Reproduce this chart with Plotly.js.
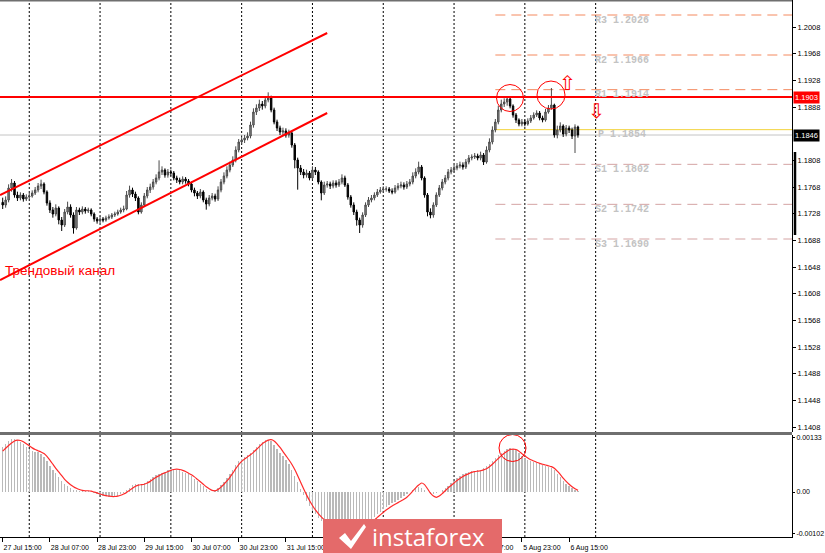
<!DOCTYPE html>
<html><head><meta charset="utf-8">
<script src="https://cdn.plot.ly/plotly-3.0.1.min.js"></script>
<style>html,body{margin:0;padding:0;background:#fff}#chart{width:825px;height:553px}</style>
</head><body><div id="chart"></div>
<script>
// ---- DATA (EURUSD H1, 27 Jul 15:00 .. 6 Aug 18:00) ----
const opens = [1.17450,1.17410,1.17485,1.17665,1.17740,1.17560,1.17515,1.17560,1.17500,1.17530,
1.17545,1.17590,1.17635,1.17695,1.17725,1.17605,1.17440,1.17335,1.17275,1.17365,
1.17185,1.17110,1.17305,1.17380,1.17260,1.17065,1.17335,1.17305,1.17350,1.17320,
1.17335,1.17275,1.17200,1.17170,1.17200,1.17185,1.17215,1.17230,1.17260,1.17275,
1.17305,1.17335,1.17350,1.17560,1.17635,1.17575,1.17515,1.17305,1.17410,1.17545,
1.17635,1.17680,1.17755,1.17815,1.17905,1.17935,1.17860,1.17905,1.17890,1.17815,
1.17785,1.17755,1.17800,1.17770,1.17725,1.17635,1.17590,1.17545,1.17605,1.17485,
1.17425,1.17515,1.17545,1.17500,1.17635,1.17755,1.17845,1.17935,1.18010,1.18085,
1.18235,1.18355,1.18385,1.18415,1.18445,1.18610,1.18805,1.18865,1.18925,1.18895,
1.18985,1.19015,1.18835,1.18655,1.18565,1.18505,1.18520,1.18460,1.18490,1.18310,
1.18085,1.17965,1.17905,1.17860,1.17890,1.17815,1.17935,1.17905,1.17755,1.17590,
1.17710,1.17725,1.17695,1.17740,1.17710,1.17755,1.17815,1.17710,1.17530,1.17410,
1.17305,1.17185,1.17110,1.17260,1.17410,1.17485,1.17515,1.17560,1.17605,1.17635,
1.17650,1.17650,1.17620,1.17605,1.17665,1.17695,1.17710,1.17680,1.17725,1.17755,
1.17845,1.17905,1.17980,1.17815,1.17560,1.17305,1.17260,1.17410,1.17560,1.17665,
1.17755,1.17815,1.17905,1.17935,1.17965,1.17995,1.18010,1.17980,1.18055,1.18115,
1.18130,1.18145,1.18115,1.18160,1.18055,1.18235,1.18355,1.18535,1.18655,1.18835,
1.18925,1.18955,1.19000,1.18895,1.18760,1.18685,1.18625,1.18655,1.18625,1.18670,
1.18715,1.18760,1.18790,1.18715,1.18685,1.18805,1.18865,1.18910,1.18460,1.18535,
1.18595,1.18475,1.18565,1.18535,1.18445,1.18580];
const highs = [1.17520,1.17540,1.17720,1.17800,1.17770,1.17610,1.17600,1.17590,1.17570,1.17590,
1.17630,1.17680,1.17740,1.17790,1.17750,1.17630,1.17480,1.17380,1.17420,1.17390,
1.17230,1.17350,1.17460,1.17420,1.17300,1.17380,1.17370,1.17390,1.17380,1.17370,
1.17360,1.17300,1.17230,1.17240,1.17230,1.17250,1.17270,1.17290,1.17310,1.17340,
1.17370,1.17400,1.17620,1.17700,1.17670,1.17610,1.17540,1.17450,1.17590,1.17680,
1.17730,1.17800,1.17870,1.18080,1.17990,1.17960,1.17950,1.17940,1.17920,1.17850,
1.17820,1.17840,1.17830,1.17800,1.17760,1.17670,1.17620,1.17650,1.17630,1.17520,
1.17560,1.17590,1.17580,1.17690,1.17800,1.17900,1.17990,1.18060,1.18140,1.18290,
1.18400,1.18430,1.18460,1.18500,1.18660,1.18860,1.18920,1.18990,1.18970,1.19040,
1.19100,1.19050,1.18870,1.18690,1.18600,1.18570,1.18560,1.18540,1.18520,1.18340,
1.18120,1.18010,1.17950,1.17940,1.17920,1.17990,1.17980,1.17930,1.17780,1.17760,
1.17770,1.17760,1.17780,1.17780,1.17800,1.17870,1.17850,1.17740,1.17560,1.17450,
1.17340,1.17220,1.17300,1.17450,1.17530,1.17560,1.17600,1.17650,1.17680,1.17690,
1.17690,1.17680,1.17660,1.17710,1.17740,1.17760,1.17750,1.17770,1.17800,1.17900,
1.17960,1.18060,1.18010,1.17840,1.17590,1.17360,1.17450,1.17600,1.17710,1.17800,
1.17860,1.17950,1.17980,1.18010,1.18040,1.18060,1.18050,1.18100,1.18160,1.18170,
1.18190,1.18180,1.18210,1.18190,1.18290,1.18410,1.18590,1.18700,1.18900,1.18990,
1.19010,1.19040,1.19030,1.18920,1.18790,1.18710,1.18700,1.18690,1.18710,1.18760,
1.18800,1.18830,1.18820,1.18750,1.18850,1.18910,1.19165,1.18930,1.18600,1.18650,
1.18620,1.18610,1.18600,1.18570,1.18620,1.18600];
const lows = [1.17350,1.17370,1.17450,1.17610,1.17520,1.17470,1.17480,1.17460,1.17470,1.17500,
1.17520,1.17560,1.17600,1.17650,1.17570,1.17400,1.17290,1.17220,1.17240,1.17120,
1.17020,1.17080,1.17270,1.17220,1.16980,1.17040,1.17260,1.17270,1.17280,1.17290,
1.17240,1.17160,1.17130,1.17140,1.17150,1.17160,1.17190,1.17200,1.17230,1.17250,
1.17280,1.17300,1.17330,1.17520,1.17530,1.17470,1.17270,1.17280,1.17380,1.17510,
1.17590,1.17640,1.17720,1.17780,1.17860,1.17820,1.17820,1.17850,1.17780,1.17740,
1.17720,1.17720,1.17730,1.17690,1.17600,1.17540,1.17500,1.17510,1.17450,1.17340,
1.17390,1.17480,1.17460,1.17470,1.17600,1.17720,1.17810,1.17900,1.17980,1.18050,
1.18200,1.18320,1.18340,1.18380,1.18410,1.18570,1.18760,1.18820,1.18840,1.18860,
1.18950,1.18800,1.18620,1.18520,1.18460,1.18450,1.18420,1.18420,1.18270,1.17960,
1.17640,1.17860,1.17810,1.17820,1.17780,1.17790,1.17860,1.17720,1.17480,1.17560,
1.17670,1.17650,1.17660,1.17670,1.17680,1.17720,1.17680,1.17490,1.17370,1.17260,
1.17100,1.16990,1.17070,1.17230,1.17380,1.17450,1.17480,1.17530,1.17580,1.17600,
1.17610,1.17590,1.17570,1.17580,1.17630,1.17660,1.17640,1.17650,1.17690,1.17720,
1.17810,1.17870,1.17780,1.17520,1.17240,1.17210,1.17220,1.17380,1.17530,1.17630,
1.17720,1.17780,1.17870,1.17900,1.17930,1.17960,1.17940,1.17950,1.18020,1.18080,
1.18100,1.18080,1.18080,1.18010,1.18030,1.18200,1.18320,1.18500,1.18620,1.18800,
1.18880,1.18900,1.18860,1.18720,1.18640,1.18590,1.18590,1.18590,1.18600,1.18640,
1.18690,1.18730,1.18680,1.18650,1.18660,1.18780,1.18840,1.18420,1.18410,1.18500,
1.18430,1.18440,1.18490,1.18400,1.18190,1.18420];
const closes = [1.17410,1.17485,1.17665,1.17740,1.17560,1.17515,1.17560,1.17500,1.17530,1.17545,
1.17590,1.17635,1.17695,1.17725,1.17605,1.17440,1.17335,1.17275,1.17365,1.17185,
1.17110,1.17305,1.17380,1.17260,1.17065,1.17335,1.17305,1.17350,1.17320,1.17335,
1.17275,1.17200,1.17170,1.17200,1.17185,1.17215,1.17230,1.17260,1.17275,1.17305,
1.17335,1.17350,1.17560,1.17635,1.17575,1.17515,1.17305,1.17410,1.17545,1.17635,
1.17680,1.17755,1.17815,1.17905,1.17935,1.17860,1.17905,1.17890,1.17815,1.17785,
1.17755,1.17800,1.17770,1.17725,1.17635,1.17590,1.17545,1.17605,1.17485,1.17425,
1.17515,1.17545,1.17500,1.17635,1.17755,1.17845,1.17935,1.18010,1.18085,1.18235,
1.18355,1.18385,1.18415,1.18445,1.18610,1.18805,1.18865,1.18925,1.18895,1.18985,
1.19015,1.18835,1.18655,1.18565,1.18505,1.18520,1.18460,1.18490,1.18310,1.18085,
1.17965,1.17905,1.17860,1.17890,1.17815,1.17935,1.17905,1.17755,1.17590,1.17710,
1.17725,1.17695,1.17740,1.17710,1.17755,1.17815,1.17710,1.17530,1.17410,1.17305,
1.17185,1.17110,1.17260,1.17410,1.17485,1.17515,1.17560,1.17605,1.17635,1.17650,
1.17650,1.17620,1.17605,1.17665,1.17695,1.17710,1.17680,1.17725,1.17755,1.17845,
1.17905,1.17980,1.17815,1.17560,1.17305,1.17260,1.17410,1.17560,1.17665,1.17755,
1.17815,1.17905,1.17935,1.17965,1.17995,1.18010,1.17980,1.18055,1.18115,1.18130,
1.18145,1.18115,1.18160,1.18055,1.18235,1.18355,1.18535,1.18655,1.18835,1.18925,
1.18955,1.19000,1.18895,1.18760,1.18685,1.18625,1.18655,1.18625,1.18670,1.18715,
1.18760,1.18790,1.18715,1.18685,1.18805,1.18865,1.18910,1.18460,1.18535,1.18595,
1.18475,1.18565,1.18535,1.18445,1.18580,1.18460];
const macdHist = [0.00110,0.00117,0.00124,0.00129,0.00130,0.00127,0.00122,0.00117,0.00111,0.00105,
0.00101,0.00099,0.00097,0.00094,0.00085,0.00075,0.00064,0.00055,0.00046,0.00036,
0.00027,0.00020,0.00014,0.00009,0.00006,0.00004,0.00003,0.00003,0.00003,0.00002,
0.00001,-0.00002,-0.00004,-0.00007,-0.00009,-0.00011,-0.00012,-0.00012,-0.00011,-0.00009,
-0.00006,-0.00002,0.00004,0.00010,0.00016,0.00020,0.00019,0.00017,0.00021,0.00026,
0.00032,0.00037,0.00041,0.00044,0.00047,0.00050,0.00053,0.00055,0.00056,0.00055,
0.00053,0.00050,0.00047,0.00043,0.00038,0.00032,0.00026,0.00020,0.00014,0.00008,
0.00003,-0.00001,0.00004,0.00010,0.00017,0.00025,0.00034,0.00044,0.00055,0.00066,
0.00075,0.00080,0.00085,0.00090,0.00096,0.00103,0.00110,0.00117,0.00123,0.00127,
0.00128,0.00124,0.00116,0.00106,0.00096,0.00087,0.00078,0.00068,0.00055,0.00040,
0.00025,0.00008,-0.00008,-0.00022,-0.00035,-0.00046,-0.00055,-0.00063,-0.00070,-0.00076,
-0.00080,-0.00083,-0.00085,-0.00086,-0.00086,-0.00085,-0.00085,-0.00087,-0.00090,-0.00092,
-0.00093,-0.00091,-0.00087,-0.00082,-0.00076,-0.00069,-0.00062,-0.00055,-0.00048,-0.00042,
-0.00037,-0.00032,-0.00028,-0.00024,-0.00020,-0.00015,-0.00010,-0.00005,0.00000,0.00006,
0.00010,0.00012,0.00010,0.00005,0.00000,-0.00004,-0.00005,-0.00003,0.00001,0.00004,
0.00009,0.00015,0.00022,0.00028,0.00034,0.00039,0.00043,0.00046,0.00049,0.00051,
0.00052,0.00053,0.00055,0.00058,0.00063,0.00069,0.00076,0.00083,0.00090,0.00096,
0.00101,0.00105,0.00107,0.00106,0.00102,0.00096,0.00089,0.00083,0.00079,0.00076,
0.00073,0.00070,0.00068,0.00066,0.00064,0.00062,0.00059,0.00053,0.00045,0.00036,
0.00027,0.00020,0.00014,0.00009,0.00005,0.00002];
const macdSignal = [0.00100,0.00107,0.00114,0.00120,0.00125,0.00127,0.00126,0.00123,0.00118,0.00113,
0.00108,0.00104,0.00101,0.00098,0.00094,0.00087,0.00078,0.00068,0.00058,0.00049,
0.00040,0.00031,0.00024,0.00018,0.00013,0.00009,0.00006,0.00004,0.00003,0.00003,
0.00002,0.00000,-0.00002,-0.00005,-0.00007,-0.00009,-0.00010,-0.00011,-0.00011,-0.00010,
-0.00008,-0.00005,-0.00001,0.00004,0.00009,0.00014,0.00017,0.00018,0.00019,0.00022,
0.00026,0.00031,0.00036,0.00040,0.00044,0.00047,0.00050,0.00053,0.00055,0.00056,
0.00055,0.00053,0.00050,0.00046,0.00042,0.00037,0.00031,0.00025,0.00019,0.00013,
0.00008,0.00004,0.00003,0.00006,0.00012,0.00019,0.00027,0.00036,0.00046,0.00057,
0.00067,0.00075,0.00081,0.00086,0.00091,0.00097,0.00104,0.00111,0.00118,0.00123,
0.00127,0.00128,0.00125,0.00118,0.00109,0.00099,0.00089,0.00079,0.00068,0.00055,
0.00040,0.00024,0.00008,-0.00007,-0.00021,-0.00033,-0.00044,-0.00053,-0.00061,-0.00068,
-0.00074,-0.00078,-0.00082,-0.00084,-0.00085,-0.00086,-0.00085,-0.00086,-0.00088,-0.00090,
-0.00092,-0.00092,-0.00090,-0.00086,-0.00081,-0.00075,-0.00069,-0.00062,-0.00056,-0.00050,
-0.00044,-0.00039,-0.00034,-0.00030,-0.00026,-0.00022,-0.00018,-0.00013,-0.00006,0.00002,
0.00010,0.00017,0.00022,0.00018,0.00008,-0.00003,-0.00010,-0.00013,-0.00010,-0.00004,
0.00003,0.00010,0.00016,0.00022,0.00028,0.00033,0.00038,0.00042,0.00045,0.00048,
0.00050,0.00051,0.00052,0.00054,0.00057,0.00062,0.00068,0.00075,0.00082,0.00089,
0.00095,0.00100,0.00104,0.00105,0.00104,0.00100,0.00094,0.00088,0.00083,0.00079,
0.00076,0.00073,0.00070,0.00068,0.00066,0.00064,0.00062,0.00058,0.00051,0.00043,
0.00034,0.00026,0.00019,0.00013,0.00008,0.00004];

// bar index of each time label (every 16 H1 bars from 27 Jul 15:00)
const timeTickIdx = [0,16,32,48,64,80,96,112,128,144,160,176,192];
const timeTickLabels = ['27 Jul 15:00','28 Jul 07:00','28 Jul 23:00','29 Jul 15:00','30 Jul 07:00','30 Jul 23:00','31 Jul 15:00','3 Aug 07:00','3 Aug 23:00','4 Aug 15:00','5 Aug 07:00','5 Aug 23:00','6 Aug 15:00'];
const labelsUnderLogo = ['3 Aug 07:00','3 Aug 23:00','4 Aug 15:00'];
const daySepIdx = [9,33,57,81,105,129,153,177,201];
const priceTicks = [1.2008,1.1968,1.1928,1.1888,1.1808,1.1768,1.1728,1.1688,1.1648,1.1608,1.1568,1.1528,1.1488,1.1448,1.1408];
const macdTicks = [0.00133,0,-0.00102];
const macdTickText = ['0.00133','0.00','-0.00102'];
const pivotNames = ['R3','R2','R1','P','S1','S2','S3'];
const pivotValues = [1.2026,1.1966,1.1914,1.1854,1.1802,1.1742,1.1690];
const pivotStartIdx = 167;
const resistanceLevel = 1.1903;
const bidPrice = 1.1846;
// trend channel: [startIdx, startPrice, endIdx, endPrice]
const channelUpper = [-0.9, 1.1756, 110, 1.1999];
const channelLower = [-0.9, 1.16285, 110, 1.1879];

// ---- GEOMETRY ----
const W=825,H=553,ML=0,MR=33,MT=0,MB=16;
const PW=W-ML-MR, PH=H-MT-MB;
const px = x => (x-ML)/PW;
const py = y => 1-(y-MT)/PH;
const xi = x => (x-2.7)/2.95;          // pixel -> bar index
const yp = y => 1.20485-0.00015*y;     // pixel -> price (main pane)
const ym = y => (492-y)/40851;          // pixel -> macd value

const idx = closes.map((_,i)=>i);

const traces = [
 {type:'candlestick', x:idx, open:opens, high:highs, low:lows, close:closes,
  xaxis:'x', yaxis:'y', showlegend:false, hoverinfo:'skip',
  increasing:{line:{color:'#4a4a4a',width:1}, fillcolor:'#8e8e8e'},
  decreasing:{line:{color:'#000000',width:1}, fillcolor:'#000000'},
  whiskerwidth:0},
 {type:'bar', x:idx, y:macdHist, xaxis:'x', yaxis:'y2', width:0.45,
  marker:{color:'#b9b9b9', line:{width:0}}, showlegend:false, hoverinfo:'skip'},
 {type:'scatter', mode:'lines', x:idx, y:macdSignal, xaxis:'x', yaxis:'y2',
  line:{color:'#ff2a2a', width:1.2, shape:'spline', smoothing:0.6}, showlegend:false, hoverinfo:'skip'}
];

const shapes = [];
daySepIdx.forEach(i=>shapes.push({type:'line', xref:'x', yref:'paper', x0:i, x1:i, y0:0, y1:1,
  line:{color:'#000', width:1, dash:'2px,2px'}, layer:'below'}));
pivotNames.forEach((n,k)=>{
  const isR = n[0]==='R', isP = n==='P';
  shapes.push({type:'line', xref:'x', yref:'y', x0:pivotStartIdx, x1:xi(PW), y0:pivotValues[k], y1:pivotValues[k],
    line:{color: isP?'#f2d23a':(isR?'#f4895e':'#d4a3a3'), width:1, dash: isP?'solid':'10px,6px'}, layer:'below'});
});
shapes.push({type:'line', xref:'paper', yref:'y', x0:0, x1:1, y0:bidPrice, y1:bidPrice, line:{color:'#c4c4c4', width:1}, layer:'below'});
shapes.push({type:'line', xref:'paper', yref:'y', x0:0, x1:1, y0:resistanceLevel, y1:resistanceLevel, line:{color:'#ff0000', width:2}, layer:'above'});
[channelUpper, channelLower].forEach(c=>shapes.push({type:'line', xref:'x', yref:'y', x0:c[0], y0:c[1], x1:c[2], y1:c[3],
  line:{color:'#ff0000', width:2}, layer:'above'}));
function circ(cx, cy, r, yref, yv){ return {type:'circle', xref:'x', yref:yref, xsizemode:'pixel', ysizemode:'pixel',
  xanchor:xi(cx), yanchor:yv, x0:-r, x1:r, y0:-r, y1:r, line:{color:'#ff0000', width:1}, layer:'above'}; }
shapes.push(circ(510, 98, 13.5, 'y', yp(98)));
shapes.push(circ(551, 95, 14, 'y', yp(95)));
shapes.push(circ(512.5, 448, 13.5, 'y2', ym(448)));
shapes.push({type:'line', xref:'paper', yref:'paper', x0:0, x1:1, y0:py(433.5), y1:py(433.5), line:{color:'#6f6f6f', width:3}, layer:'above'});
shapes.push({type:'line', xref:'paper', yref:'paper', x0:0, x1:1, y0:py(0.5), y1:py(0.5), line:{color:'#6f6f6f', width:2}, layer:'above'});
shapes.push({type:'line', xref:'paper', yref:'y', x0:px(795), x1:px(795), y0:yp(152), y1:yp(235), line:{color:'#000', width:2.5}, layer:'above'});
shapes.push({type:'rect', xref:'paper', yref:'paper', x0:px(323), x1:px(502), y0:py(553), y1:py(519),
  fillcolor:'#e46a6a', line:{width:0}, layer:'above'});
const lp = (x,y)=>px(x).toFixed(5)+','+py(y).toFixed(5);
shapes.push({type:'path', xref:'paper', yref:'paper', layer:'above', fillcolor:'#ffffff', line:{width:0},
  path:'M'+lp(339,538)+' L'+lp(345,533)+' L'+lp(351,541)+' L'+lp(364,524)+' L'+lp(366,527)+' L'+lp(351,549)+' Z'});

const annotations = [];
pivotNames.forEach((n,k)=>annotations.push({xref:'x', yref:'y', x: xi(n==='P'?596:593), y:pivotValues[k], yshift:-5,
  xanchor:'left', yanchor:'middle', showarrow:false, text:'<b>'+n+' '+pivotValues[k].toFixed(4)+'</b>',
  font:{family:'Liberation Mono, DejaVu Sans Mono, monospace', size:10, color:'#c3c3c3'}}));
annotations.push({xref:'paper', yref:'y', x:px(3), y:yp(270), xanchor:'left', yanchor:'middle', showarrow:false,
  text:'Трендовый канал', font:{family:'Liberation Sans, Arial, sans-serif', size:13.5, color:'#ff0000'}});
annotations.push({xref:'paper', yref:'y', x:1, xshift:1, y:resistanceLevel, xanchor:'left', yanchor:'middle', showarrow:false,
  text:resistanceLevel.toFixed(4), bgcolor:'#ff0000', borderpad:1, font:{family:'Liberation Sans, Arial', size:7.5, color:'#fff'}});
annotations.push({xref:'paper', yref:'y', x:1, xshift:1, y:bidPrice, xanchor:'left', yanchor:'middle', showarrow:false,
  text:bidPrice.toFixed(4), bgcolor:'#000000', borderpad:1, font:{family:'Liberation Sans, Arial', size:7.5, color:'#fff'}});
annotations.push({xref:'x', yref:'y', x:xi(567), y:yp(83), showarrow:false, text:'⇧',
  font:{family:'DejaVu Sans', size:20, color:'#ff0000'}});
annotations.push({xref:'x', yref:'y', x:xi(596), y:yp(111), showarrow:false, text:'⇩',
  font:{family:'DejaVu Sans', size:20, color:'#ff0000'}});
annotations.push({xref:'paper', yref:'paper', x:px(370), y:py(536), xanchor:'left', yanchor:'middle', showarrow:false,
  text:'instaforex', font:{family:'Open Sans, Lato, sans-serif', size:24, color:'#ffffff'}});

const axFont = {family:'Liberation Sans, Arial, sans-serif', size:7.5, color:'#000'};
const layout = {
  width:W, height:H, margin:{l:ML, r:MR, t:MT, b:MB, pad:0},
  paper_bgcolor:'#fff', plot_bgcolor:'#fff', showlegend:false, dragmode:false,
  xaxis:{range:[xi(0), xi(PW)], anchor:'y2', showgrid:false, zeroline:false, showline:true, linecolor:'#000', linewidth:1,
    ticks:'outside', ticklen:4, tickcolor:'#000', tickvals:timeTickIdx,
    ticktext:timeTickLabels.map(t=>labelsUnderLogo.includes(t)?'':t),
    tickfont:{family:axFont.family, size:7, color:'#000'},
    ticklabelshift:20, ticklabeloverflow:'allow', rangeslider:{visible:false}, fixedrange:true},
  yaxis:{domain:[py(432),1], range:[yp(432), yp(0)], side:'right', anchor:'x', showgrid:false, zeroline:false,
    showline:true, linecolor:'#000', linewidth:1, ticks:'outside', ticklen:3, tickcolor:'#000',
    tickvals:priceTicks, ticktext:priceTicks.map(v=>v.toFixed(4)), tickfont:axFont, fixedrange:true},
  yaxis2:{domain:[0,py(435)], range:[ym(537), ym(435)], side:'right', anchor:'x', showgrid:false, zeroline:false,
    showline:true, linecolor:'#000', linewidth:1, ticks:'outside', ticklen:2, tickcolor:'#000',
    tickvals:macdTicks, ticktext:macdTickText, tickfont:{family:axFont.family, size:7, color:'#000'}, fixedrange:true},
  shapes:shapes, annotations:annotations, bargap:0
};
Plotly.newPlot('chart', traces, layout, {staticPlot:true, displayModeBar:false});
</script></body></html>
